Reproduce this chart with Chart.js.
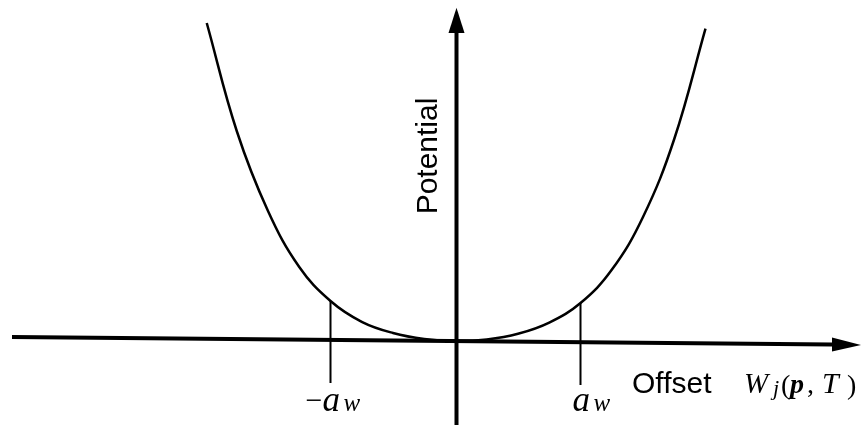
<!DOCTYPE html>
<html>
<head>
<meta charset="utf-8">
<script src="https://cdn.jsdelivr.net/npm/chart.js@4/dist/chart.umd.min.js"></script>
<style>
  html, body { margin: 0; padding: 0; background: #fff; }
  #wrap { width: 864px; height: 425px; position: relative; }
</style>
</head>
<body>
<div id="wrap"><canvas id="potentialChart"></canvas></div>
<script>
// offset (in units of a_w) and the potential at that offset
var offset = [-1.99, -1.75, -1.5, -1.25, -1.0, -0.75, -0.5, -0.25, 0, 0.25, 0.5, 0.75, 1.0, 1.25, 1.5, 1.75, 2.0];
var potential = [7.95, 5.25, 3.25, 1.85, 1.0, 0.48, 0.2, 0.05, 0, 0.04, 0.18, 0.46, 0.95, 1.78, 3.1, 5.05, 7.81];

// the two marked offsets -a_w and a_w, and where their guide lines stop
var markAt = [-1, 1];
var markTop = [1.0, 0.95];
var markBottom = [-1.05, -1.1];
var markSign = ['\u2212', ''];

// axes drawn as arrows: [start, end] in data units
var xAxisEnds = [{x: -3.548, y: 0.1}, {x: 3.012, y: -0.09}];
var xArrowTip = {x: 3.244, y: -0.1};
var yAxisEnds = [{x: 0.004, y: -2.1}, {x: 0.008, y: 7.7}];
var yArrowTip = {x: 0.008, y: 8.33};

var curve = offset.map(function (v, i) { return {x: v, y: potential[i]}; });

var guides = [];
markAt.forEach(function (m, i) {
    if (i > 0) guides.push({x: m, y: null});
    guides.push({x: m, y: markTop[i]});
    guides.push({x: m, y: markBottom[i]});
});

// arrow heads and the hand placed labels
var decorations = {
    id: 'decorations',
    afterDatasetsDraw: function (chart) {
        var ctx = chart.ctx;
        var xs = chart.scales.x, ys = chart.scales.y;
        function px(p) { return [xs.getPixelForValue(p.x), ys.getPixelForValue(p.y)]; }

        ctx.save();
        ctx.fillStyle = '#000';

        // arrow on the offset axis
        var t = px(xArrowTip), b = px(xAxisEnds[1]);
        ctx.beginPath();
        ctx.moveTo(t[0], t[1]);
        ctx.lineTo(b[0], b[1] - 7);
        ctx.lineTo(b[0], b[1] + 7);
        ctx.closePath();
        ctx.fill();

        // arrow on the potential axis
        t = px(yArrowTip); b = px(yAxisEnds[1]);
        ctx.beginPath();
        ctx.moveTo(t[0], t[1]);
        ctx.lineTo(b[0] - 8, b[1]);
        ctx.lineTo(b[0] + 8, b[1]);
        ctx.closePath();
        ctx.fill();

        ctx.textBaseline = 'alphabetic';
        ctx.textAlign = 'left';

        // -a_w and a_w under the guide lines
        markAt.forEach(function (m, i) {
            var cx = xs.getPixelForValue(m);
            if (markSign[i]) {
                ctx.font = '30px "Liberation Serif"';
                ctx.fillText(markSign[i], cx - 25, 410);
            }
            ctx.font = 'italic 35px "Liberation Serif"';
            ctx.fillText('a', cx - 8, 411);
            ctx.font = 'italic 25px "Liberation Serif"';
            ctx.fillText('w', cx + 13, 411);
        });

        // axis names
        ctx.font = '30px "Liberation Sans"';
        ctx.fillText('Offset', 632, 393);

        ctx.font = 'italic 29px "Liberation Serif"';
        ctx.fillText('W', 744, 393);
        ctx.font = 'italic 22px "Liberation Serif"';
        ctx.fillText('j', 773, 395);
        ctx.font = '28px "Liberation Serif"';
        ctx.fillText('(', 781, 394);
        ctx.font = 'italic bold 28px "Liberation Serif"';
        ctx.fillText('p', 790, 393);
        ctx.font = '28px "Liberation Serif"';
        ctx.fillText(',', 807, 393);
        ctx.font = 'italic 30px "Liberation Serif"';
        ctx.fillText('T', 822, 393);
        ctx.font = '28px "Liberation Serif"';
        ctx.fillText(')', 847, 394);

        ctx.translate(437, 156);
        ctx.rotate(-Math.PI / 2);
        ctx.textAlign = 'center';
        ctx.font = '30px "Liberation Sans"';
        ctx.fillText('Potential', 0, 0);
        ctx.restore();
    }
};

var ctx = document.getElementById('potentialChart').getContext('2d');
var chart = new Chart(ctx, {
    type: 'line',
    data: {
        datasets: [{
            label: 'Potential',
            data: curve,
            borderColor: '#000',
            borderWidth: 2.5,
            pointRadius: 0,
            tension: 0.4
        },
        {
            label: 'Offset axis',
            data: xAxisEnds,
            borderColor: '#000',
            borderWidth: 4,
            pointRadius: 0
        },
        {
            label: 'Potential axis',
            data: yAxisEnds,
            borderColor: '#000',
            borderWidth: 4,
            pointRadius: 0
        },
        {
            label: 'Guides',
            data: guides,
            borderColor: '#000',
            borderWidth: 2,
            pointRadius: 0,
            spanGaps: false
        }]
    },
    options: {
        responsive: true,
        maintainAspectRatio: false,
        animation: false,
        layout: { padding: 0 },
        plugins: {
            legend: { display: false },
            tooltip: { enabled: false }
        },
        scales: {
            x: { type: 'linear', min: -3.644, max: 3.268, display: false },
            y: { type: 'linear', min: -2.1, max: 8.525, display: false }
        }
    },
    plugins: [decorations]
});
</script>
</body>
</html>
